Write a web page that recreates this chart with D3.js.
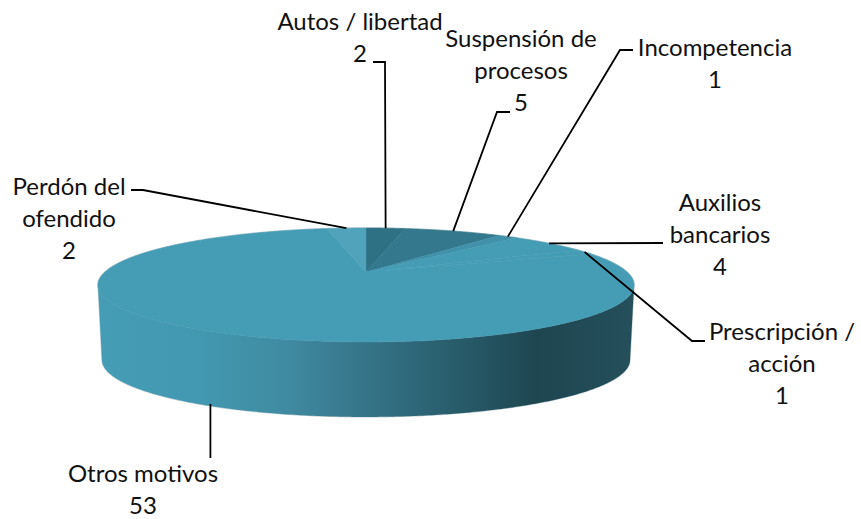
<!DOCTYPE html>
<html>
<head>
<meta charset="utf-8">
<script src="https://cdn.jsdelivr.net/npm/d3@7"></script>
<style>
  html, body { margin: 0; background: #fff; }
  text { font-family: Lato, "Open Sans", sans-serif; font-size: 24px; fill: #111; }
</style>
</head>
<body>
<div id="chart"></div>
<script>
const width = 861;
const height = 519;

// valeurs
const categories = [
  ["Autos / libertad"],
  ["Suspensión de", "procesos"],
  ["Incompetencia"],
  ["Auxilios", "bancarios"],
  ["Prescripción /", "acción"],
  ["Otros motivos"],
  ["Perdón del", "ofendido"]
];
const values = [2, 5, 1, 4, 1, 53, 2];
const sliceColors = ["#2e7084", "#33788d", "#4091a9", "#459cb5", "#459cb5", "#459cb5", "#50a3bb"];

// position des libellés et coudes des traits de rappel
const labelPos = [[360, 30], [521, 47], [715, 56], [720, 211], [782, 340], [143, 482], [69, 195]];
const leaderBends = [[[385, 62], [373, 62]], [[497, 112], [510, 112]], [[620, 50], [633, 50]], [[663, 243]], [[692, 341], [705, 341]], [[null, 458]], [[143, 190], [131, 190]]];
const lineStep = 32;

// le disque en perspective : sommet des parts, largeur, hauteur, fuite
const apexX = 366, apexY = 272, rimA = 261, rimB = 54, persp = 0.228, depth = 75;

function rim(theta) {
  const w = 1 + persp * Math.cos(theta);
  return [apexX + rimA * Math.sin(theta) / w, apexY - rimB * Math.cos(theta) / w];
}

const svg = d3.select("#chart").append("svg")
  .attr("width", width)
  .attr("height", height)
  .attr("viewBox", `0 0 ${width} ${height}`)
  .style("display", "block");

const pie = d3.pie().sort(null).value(d => d);
const arcs = pie(values);
const line = d3.line();

// dégradé du flanc
const defs = svg.append("defs");
const sideGrad = defs.append("linearGradient")
  .attr("id", "side")
  .attr("gradientUnits", "userSpaceOnUse")
  .attr("x1", 97).attr("x2", 633).attr("y1", 0).attr("y2", 0);
[[0, "#459cb5"], [0.2, "#4298b0"], [0.36, "#3f8aa0"], [0.44, "#3a7d93"], [0.63, "#2b6272"], [0.82, "#1e4651"], [1, "#244f5b"]]
  .forEach(s => sideGrad.append("stop").attr("offset", s[0]).attr("stop-color", s[1]));

// flanc
const tStart = Math.acos(-persp), tEnd = 2 * Math.PI - tStart;
const front = d3.range(tStart, tEnd + 0.005, 0.01);
const sidePts = front.map(rim).concat(front.slice().reverse().map(t => {
  const p = rim(t);
  return [apexX + (p[0] - apexX) * 0.985, p[1] + depth];
}));

// liseré gris autour du disque, sous les aplats
const rimPts = d3.range(0, 2 * Math.PI, 0.01).map(rim);
svg.append("path").attr("d", line(rimPts) + "Z")
  .attr("fill", "none").attr("stroke", "#c4d0d4").attr("stroke-width", 1.5);
svg.append("path").attr("d", line(sidePts) + "Z")
  .attr("fill", "none").attr("stroke", "#c4d0d4").attr("stroke-width", 1.2);
svg.append("path").attr("d", line(sidePts) + "Z")
  .attr("fill", "url(#side)");

// dessus
svg.append("g").selectAll("path")
  .data(arcs)
  .join("path")
  .attr("d", d => {
    const pts = d3.range(d.startAngle, d.endAngle, 0.01).concat(d.endAngle).map(rim);
    return line([[apexX, apexY]].concat(pts)) + "Z";
  })
  .attr("fill", (d, i) => sliceColors[i])
  .attr("stroke", (d, i) => sliceColors[i])
  .attr("stroke-width", 0.5);

// traits de rappel
svg.append("g").selectAll("path")
  .data(arcs)
  .join("path")
  .attr("d", (d, i) => {
    const p = rim((d.startAngle + d.endAngle) / 2);
    // la part « Otros motivos » se rattache au bas du flanc
    const start = i === 5 ? [p[0] + 3, p[1] + depth - 2] : p;
    const pts = leaderBends[i].map(b => [b[0] === null ? start[0] : b[0], b[1]]);
    return line([start].concat(pts));
  })
  .attr("fill", "none")
  .attr("stroke", "#000")
  .attr("stroke-width", 1.8);

// libellés : nom puis valeur
const labels = svg.append("g").selectAll("text")
  .data(categories.map((c, i) => c.concat(values[i])))
  .join("text")
  .attr("text-anchor", "middle")
  .attr("transform", (d, i) => `translate(${labelPos[i]})`);
labels.selectAll("tspan")
  .data(d => d)
  .join("tspan")
  .attr("x", 0)
  .attr("y", (d, i) => i * lineStep)
  .text(d => d);
</script>
</body>
</html>
